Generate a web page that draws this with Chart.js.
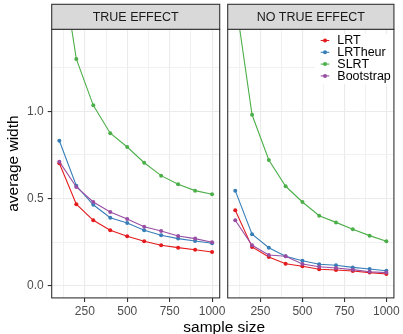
<!DOCTYPE html>
<html>
<head>
<meta charset="utf-8">
<script src="https://cdn.jsdelivr.net/npm/chart.js@4.4.1/dist/chart.umd.min.js"></script>
<style>
  html, body { margin: 0; padding: 0; background: #fff; }
  #wrap { position: relative; width: 403px; height: 334px; overflow: hidden; }
  #wrap canvas { position: absolute; left: 0; top: 0; }
</style>
</head>
<body>
<div id="wrap">
  <canvas id="left" width="403" height="334"></canvas>
  <canvas id="right" width="403" height="334"></canvas>
</div>
<script>
// data
const sampleSizes = [100, 200, 300, 400, 500, 600, 700, 800, 900, 1000];
const methods = ['LRT', 'LRTheur', 'SLRT', 'Bootstrap'];
const colors = ['#E41A1C', '#377EB8', '#4DAF4A', '#984EA3'];
const panels = ['TRUE EFFECT', 'NO TRUE EFFECT'];

const trueLRT = [0.702, 0.467, 0.375, 0.318, 0.283, 0.255, 0.232, 0.218, 0.206, 0.193];
const trueLRTheur = [0.831, 0.573, 0.464, 0.390, 0.360, 0.318, 0.289, 0.270, 0.256, 0.243];
const trueSLRT = [1.93, 1.30, 1.034, 0.874, 0.795, 0.705, 0.631, 0.581, 0.545, 0.524];
const trueBoot = [0.711, 0.566, 0.480, 0.423, 0.382, 0.338, 0.314, 0.285, 0.270, 0.249];

const noLRT = [0.432, 0.222, 0.165, 0.126, 0.111, 0.094, 0.090, 0.084, 0.075, 0.067];
const noLRTheur = [0.545, 0.295, 0.218, 0.169, 0.143, 0.123, 0.117, 0.105, 0.096, 0.086];
const noSLRT = [1.65, 0.98, 0.721, 0.570, 0.480, 0.401, 0.363, 0.323, 0.287, 0.255];
const noBoot = [0.375, 0.232, 0.176, 0.169, 0.124, 0.109, 0.101, 0.092, 0.080, 0.075];

// ticks (minor ones have empty labels)
const xTicks = [125, 250, 375, 500, 625, 750, 875, 1000];
const xTickLabels = ['', '250', '', '500', '', '750', '', '1000'];
const yTicks = [0, 0.25, 0.5, 0.75, 1.0, 1.25];
const yTickLabels = ['0.0', '', '0.5', '', '1.0', ''];

const FONT = '"Liberation Sans", Arial, sans-serif';
const W = 403, H = 334;
const panelTop = 29.3, panelBottom = 297.9;
const stripTop = 4.3;

const isMajor = (ticks, labels, v) => labels[ticks.indexOf(v)] !== '';

function makeDatasets(series) {
    return series.map((vals, i) => ({
        label: methods[i],
        data: sampleSizes.map((x, j) => ({ x: x, y: vals[j] })),
        borderColor: colors[i],
        backgroundColor: colors[i],
        borderWidth: 1.1,
        pointRadius: 2,
        pointBorderWidth: 0,
        pointHoverRadius: 2,
        fill: false,
        tension: 0,
        order: series.length - i
    }));
}

function gridOpts(ticks, labels, showTicks) {
    return {
        color: c => (c.tick && isMajor(ticks, labels, c.tick.value)) ? '#EBEBEB' : '#EFEFEF',
        lineWidth: c => (c.tick && isMajor(ticks, labels, c.tick.value)) ? 1.1 : 0.9,
        tickColor: c => (showTicks && c.tick && isMajor(ticks, labels, c.tick.value)) ? '#333333' : 'rgba(0,0,0,0)',
        tickLength: showTicks ? 4 : 0,
        drawTicks: showTicks
    };
}

function makeScales(showY) {
    return {
        x: {
            type: 'linear',
            min: 55, max: 1045,
            afterBuildTicks: s => { s.ticks = xTicks.map(v => ({ value: v })); },
            afterFit: s => { s.height = H - panelBottom; },
            border: { display: false },
            grid: gridOpts(xTicks, xTickLabels, true),
            ticks: {
                autoSkip: false, maxRotation: 0, padding: 3,
                color: '#4D4D4D',
                font: { family: FONT, size: 12 },
                callback: (v) => xTickLabels[xTicks.indexOf(v)] ?? ''
            }
        },
        y: {
            type: 'linear',
            min: -0.07, max: 1.47,
            afterBuildTicks: s => { s.ticks = yTicks.map(v => ({ value: v })); },
            afterFit: s => { s.width = showY ? 51.7 : 0; },
            border: { display: false },
            grid: gridOpts(yTicks, yTickLabels, showY),
            ticks: {
                display: showY, padding: 4,
                color: '#4D4D4D',
                font: { family: FONT, size: 12 },
                callback: (v) => yTickLabels[yTicks.indexOf(v)] ?? ''
            },
            title: {
                display: showY,
                text: 'average width',
                color: '#000',
                font: { family: FONT, size: 15.5 },
                padding: { top: 4, bottom: 0 }
            }
        }
    };
}

// strip + panel border, and the x title / legend
const facetPlugin = {
    id: 'facet',
    afterDraw(chart, args, opts) {
        const { ctx, chartArea: a } = chart;
        ctx.save();
        // legend box
        if (opts.legend) {
            ctx.fillStyle = '#fff';
            ctx.fillRect(315, 34, 81, 50);
            methods.forEach((m, i) => {
                const y = 40.5 + i * 11.8;
                ctx.strokeStyle = colors[i];
                ctx.lineWidth = 1.1;
                ctx.beginPath();
                ctx.moveTo(320.7, y);
                ctx.lineTo(329.3, y);
                ctx.stroke();
                ctx.fillStyle = colors[i];
                ctx.beginPath();
                ctx.arc(325, y, 2, 0, Math.PI * 2);
                ctx.fill();
                ctx.fillStyle = '#000';
                ctx.font = '12.5px ' + FONT;
                ctx.textAlign = 'left';
                ctx.textBaseline = 'middle';
                ctx.fillText(m, 337.3, y + 0.5);
            });
        }
        // panel border
        ctx.strokeStyle = '#333333';
        ctx.lineWidth = 1.1;
        ctx.strokeRect(a.left, a.top, a.right - a.left, a.bottom - a.top);
        // strip
        ctx.fillStyle = '#D9D9D9';
        ctx.fillRect(a.left, stripTop, a.right - a.left, a.top - stripTop);
        ctx.strokeRect(a.left, stripTop, a.right - a.left, a.top - stripTop);
        ctx.fillStyle = '#1A1A1A';
        ctx.font = '12.5px ' + FONT;
        ctx.textAlign = 'center';
        ctx.textBaseline = 'middle';
        ctx.fillText(opts.strip, (a.left + a.right) / 2, (stripTop + a.top) / 2 + 0.5);
        // shared x title
        if (opts.xTitle) {
            ctx.fillStyle = '#000';
            ctx.font = '15.5px ' + FONT;
            ctx.fillText(opts.xTitle, 224.2, 327.5);
        }
        ctx.restore();
    }
};

function makeChart(id, series, pad, showY, strip, extra) {
    return new Chart(document.getElementById(id), {
        type: 'line',
        data: { datasets: makeDatasets(series) },
        options: {
            responsive: false,
            animation: false,
            devicePixelRatio: 1,
            layout: { padding: pad },
            scales: makeScales(showY),
            plugins: {
                legend: { display: false },
                tooltip: { enabled: false },
                facet: Object.assign({ strip: strip }, extra)
            }
        },
        plugins: [facetPlugin]
    });
}

makeChart('left', [trueLRT, trueLRTheur, trueSLRT, trueBoot],
    { left: 0, right: W - 219.7, top: panelTop, bottom: 0 }, true, panels[0],
    { xTitle: 'sample size' });

makeChart('right', [noLRT, noLRTheur, noSLRT, noBoot],
    { left: 227.7, right: W - 396.7, top: panelTop, bottom: 0 }, false, panels[1],
    { legend: true });
</script>
</body>
</html>
